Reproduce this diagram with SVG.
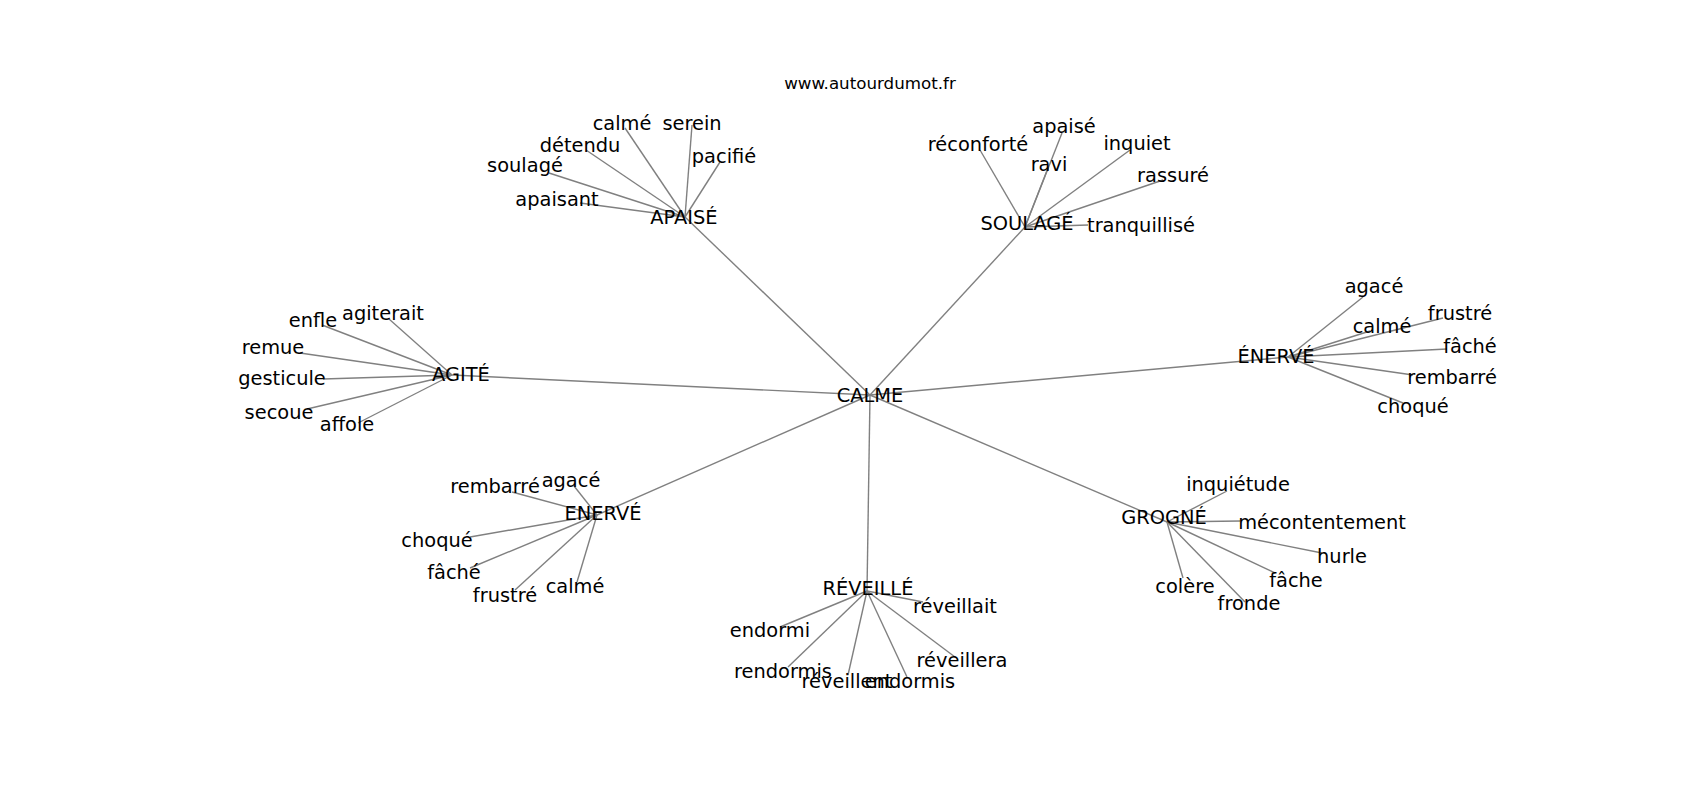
<svg xmlns="http://www.w3.org/2000/svg" width="1700" height="800" viewBox="0 0 1700 800">
<style>
text{font-family:"DejaVu Sans","Liberation Sans",sans-serif;font-size:19.4px;fill:#000;text-anchor:middle}
.title{font-size:16.7px}
#edges line{stroke:#808080;stroke-width:1.4}
</style>
<rect width="1700" height="800" fill="#fff"/>
<text class="title" x="870" y="89">www.autourdumot.fr</text>
<g id="edges">
<line x1="870" y1="395" x2="685" y2="217"/>
<line x1="870" y1="395" x2="1025" y2="227"/>
<line x1="870" y1="395" x2="1288" y2="357"/>
<line x1="870" y1="395" x2="452" y2="375"/>
<line x1="870" y1="395" x2="597" y2="515"/>
<line x1="870" y1="395" x2="867" y2="591"/>
<line x1="870" y1="395" x2="1167" y2="522"/>
<line x1="685" y1="217" x2="625" y2="128"/>
<line x1="685" y1="217" x2="692" y2="125"/>
<line x1="685" y1="217" x2="586" y2="150"/>
<line x1="685" y1="217" x2="720" y2="162"/>
<line x1="685" y1="217" x2="549" y2="173"/>
<line x1="685" y1="217" x2="580" y2="203"/>
<line x1="1025" y1="227" x2="980" y2="150"/>
<line x1="1025" y1="227" x2="1062" y2="133"/>
<line x1="1025" y1="227" x2="1048" y2="168"/>
<line x1="1025" y1="227" x2="1130" y2="150"/>
<line x1="1025" y1="227" x2="1163" y2="180"/>
<line x1="1025" y1="227" x2="1088" y2="225"/>
<line x1="1288" y1="357" x2="1363" y2="297"/>
<line x1="1288" y1="357" x2="1370" y2="331"/>
<line x1="1288" y1="357" x2="1443" y2="318"/>
<line x1="1288" y1="357" x2="1447" y2="349"/>
<line x1="1288" y1="357" x2="1413" y2="375"/>
<line x1="1288" y1="357" x2="1403" y2="403"/>
<line x1="452" y1="375" x2="389" y2="319"/>
<line x1="452" y1="375" x2="322" y2="325"/>
<line x1="452" y1="375" x2="300" y2="353"/>
<line x1="452" y1="375" x2="323" y2="379"/>
<line x1="452" y1="375" x2="307" y2="409"/>
<line x1="452" y1="375" x2="358" y2="423"/>
<line x1="597" y1="515" x2="512" y2="492"/>
<line x1="597" y1="515" x2="574" y2="486"/>
<line x1="597" y1="515" x2="470" y2="537"/>
<line x1="597" y1="515" x2="470" y2="568"/>
<line x1="597" y1="515" x2="515" y2="590"/>
<line x1="597" y1="515" x2="577" y2="582"/>
<line x1="867" y1="591" x2="923" y2="602"/>
<line x1="867" y1="591" x2="780" y2="627"/>
<line x1="867" y1="591" x2="788" y2="667"/>
<line x1="867" y1="591" x2="955" y2="657"/>
<line x1="867" y1="591" x2="848" y2="675"/>
<line x1="867" y1="591" x2="907" y2="677"/>
<line x1="1167" y1="522" x2="1227" y2="491"/>
<line x1="1167" y1="522" x2="1240" y2="521"/>
<line x1="1167" y1="522" x2="1322" y2="553"/>
<line x1="1167" y1="522" x2="1275" y2="573"/>
<line x1="1167" y1="522" x2="1183" y2="578"/>
<line x1="1167" y1="522" x2="1245" y2="602"/>
</g>
<g id="n-calme"><text x="870" y="402">CALME</text></g>
<g id="n-apaise"><text x="684" y="224">APAISÉ</text></g>
<g id="n-soulage"><text x="1027" y="230">SOULAGÉ</text></g>
<g id="n-enerve1"><text x="1276" y="363">ÉNERVÉ</text></g>
<g id="n-agite"><text x="461" y="381">AGITÉ</text></g>
<g id="n-enerve2"><text x="603" y="520">ENERVÉ</text></g>
<g id="n-reveille"><text x="868" y="595">RÉVEILLÉ</text></g>
<g id="n-grogne"><text x="1164" y="524">GROGNÉ</text></g>
<g id="l-apaise">
<text x="622" y="130">calmé</text>
<text x="692" y="130">serein</text>
<text x="580" y="152">détendu</text>
<text x="724" y="163">pacifié</text>
<text x="525" y="172">soulagé</text>
<text x="557" y="206">apaisant</text>
</g>
<g id="l-soulage">
<text x="978" y="151">réconforté</text>
<text x="1064" y="133">apaisé</text>
<text x="1049" y="171">ravi</text>
<text x="1137" y="150">inquiet</text>
<text x="1173" y="182">rassuré</text>
<text x="1141" y="232">tranquillisé</text>
</g>
<g id="l-enerve1">
<text x="1374" y="293">agacé</text>
<text x="1382" y="333">calmé</text>
<text x="1460" y="320">frustré</text>
<text x="1470" y="353">fâché</text>
<text x="1452" y="384">rembarré</text>
<text x="1413" y="413">choqué</text>
</g>
<g id="l-agite">
<text x="383" y="320">agiterait</text>
<text x="313" y="327">enfle</text>
<text x="273" y="354">remue</text>
<text x="282" y="385">gesticule</text>
<text x="279" y="419">secoue</text>
<text x="347" y="431">affole</text>
</g>
<g id="l-enerve2">
<text x="495" y="493">rembarré</text>
<text x="571" y="487">agacé</text>
<text x="437" y="547">choqué</text>
<text x="454" y="579">fâché</text>
<text x="505" y="602">frustré</text>
<text x="575" y="593">calmé</text>
</g>
<g id="l-reveille">
<text x="955" y="613">réveillait</text>
<text x="770" y="637">endormi</text>
<text x="783" y="678">rendormis</text>
<text x="962" y="667">réveillera</text>
<text x="847" y="688">réveillent</text>
<text x="910" y="688">endormis</text>
</g>
<g id="l-grogne">
<text x="1238" y="491">inquiétude</text>
<text x="1322" y="529">mécontentement</text>
<text x="1342" y="563">hurle</text>
<text x="1296" y="587">fâche</text>
<text x="1185" y="593">colère</text>
<text x="1249" y="610">fronde</text>
</g>
</svg>
